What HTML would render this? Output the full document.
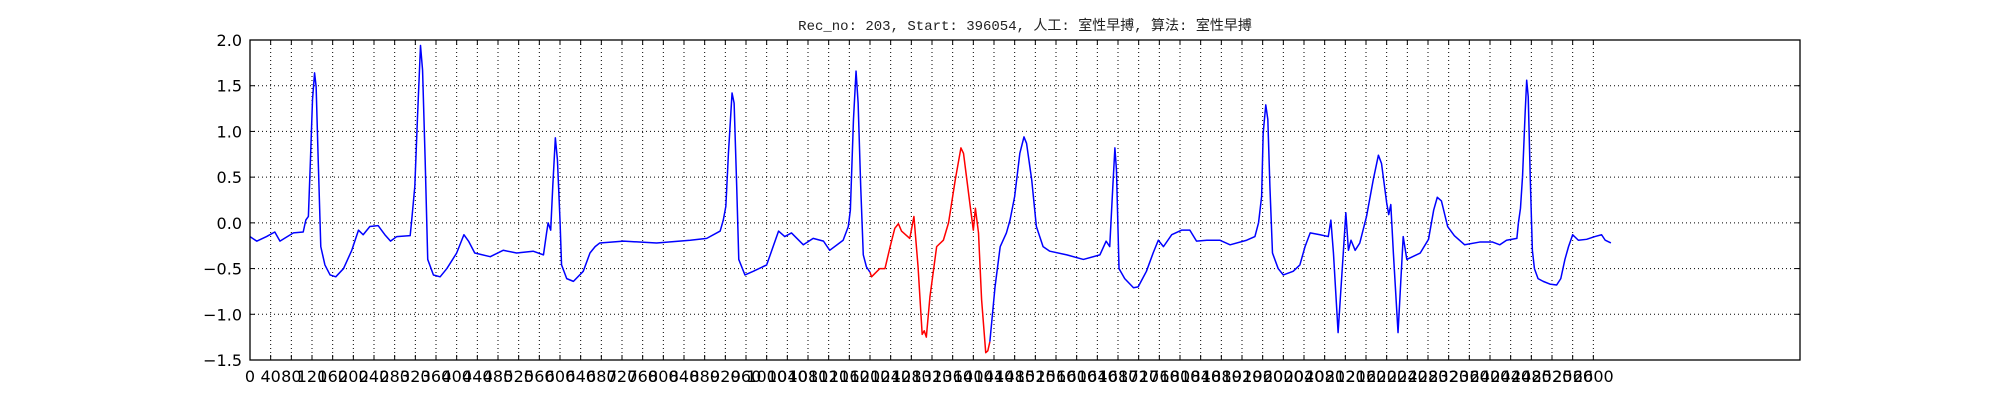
<!DOCTYPE html>
<html><head><meta charset="utf-8"><style>
html,body{margin:0;padding:0;background:#fff;}
svg{display:block;}
</style></head><body>
<svg id="chart" width="2000" height="400" xmlns="http://www.w3.org/2000/svg">
<rect width="2000" height="400" fill="#fff"/>
<text x="1025" y="30" text-anchor="middle" font-family="Liberation Mono, 'Noto Sans CJK SC', monospace" font-size="14" fill="#222">Rec_no: 203, Start: 396054, 人工: 室性早搏, 算法: 室性早搏</text>
<g id="grid"></g><g id="ticks"></g><g id="series"></g>
<rect x="250" y="40" width="1550" height="320" fill="none" stroke="#000" stroke-width="1.3"/>
</svg>
<script>
const xTicks = [];
for (let t = 0; t <= 2600; t += 40) xTicks.push(t);
const yTicks = [-1.5,-1.0,-0.5,0.0,0.5,1.0,1.5,2.0];
const yTickLabels = ["\u22121.5","\u22121.0","\u22120.5","0.0","0.5","1.0","1.5","2.0"];

const blueAIdx = [0,13,32,48,58,84,103,108,113,117,121,125,128,132,137,145,155,166,181,197,210,219,232,248,261,272,284,310,313,319,324,330,334,339,344,355,368,381,400,414,423,435,465,490,516,548,568,574,577,582,586,591,595,600,603,613,626,645,658,668,677,723,787,852,884,910,916,921,926,933,937,942,946,958,974,1000,1010,1023,1035,1048,1071,1090,1110,1122,1148,1158,1162,1168,1173,1177,1182,1187,1193,1200];
const blueAVal = [-0.15,-0.2,-0.15,-0.1,-0.2,-0.11,-0.1,0.03,0.07,0.69,1.35,1.64,1.49,0.69,-0.26,-0.46,-0.57,-0.59,-0.5,-0.3,-0.08,-0.13,-0.04,-0.03,-0.13,-0.2,-0.15,-0.14,0.03,0.4,1.13,1.94,1.67,0.69,-0.4,-0.57,-0.59,-0.5,-0.33,-0.13,-0.2,-0.33,-0.37,-0.3,-0.33,-0.31,-0.35,-0.11,0.0,-0.08,0.4,0.93,0.69,0.03,-0.46,-0.61,-0.64,-0.53,-0.33,-0.26,-0.22,-0.2,-0.22,-0.19,-0.17,-0.09,0.03,0.18,0.76,1.42,1.31,0.4,-0.4,-0.57,-0.53,-0.46,-0.3,-0.09,-0.15,-0.11,-0.24,-0.17,-0.2,-0.3,-0.19,-0.04,0.14,1.13,1.66,1.31,0.4,-0.35,-0.48,-0.54];
const redIdx = [1200,1203,1219,1229,1239,1248,1255,1261,1277,1285,1293,1301,1305,1309,1316,1329,1342,1352,1365,1376,1381,1394,1400,1404,1410,1416,1424,1428,1432];
const redVal = [-0.54,-0.59,-0.5,-0.5,-0.26,-0.06,-0.01,-0.09,-0.17,0.07,-0.48,-1.22,-1.18,-1.25,-0.81,-0.26,-0.19,0.0,0.47,0.82,0.76,0.18,-0.08,0.16,-0.11,-0.84,-1.42,-1.4,-1.3];
const blueBIdx = [1432,1437,1442,1452,1464,1471,1480,1490,1498,1503,1513,1522,1535,1548,1581,1613,1645,1657,1664,1670,1674,1677,1682,1693,1710,1719,1735,1748,1758,1768,1784,1803,1819,1832,1852,1877,1897,1929,1945,1952,1958,1961,1966,1970,1974,1979,1990,2000,2019,2032,2042,2052,2071,2087,2092,2097,2106,2116,2121,2126,2131,2139,2148,2161,2174,2184,2190,2200,2204,2208,2213,2222,2232,2239,2265,2281,2291,2298,2306,2318,2331,2351,2380,2405,2419,2432,2452,2455,2459,2463,2468,2471,2474,2478,2482,2486,2493,2503,2516,2529,2537,2545,2552,2560,2571,2587,2603,2616,2623,2634];
const blueBVal = [-1.3,-1.0,-0.7,-0.26,-0.11,0.03,0.29,0.76,0.94,0.87,0.47,-0.04,-0.26,-0.31,-0.35,-0.4,-0.35,-0.2,-0.26,0.4,0.82,0.58,-0.5,-0.61,-0.71,-0.7,-0.53,-0.33,-0.19,-0.26,-0.13,-0.08,-0.08,-0.2,-0.19,-0.19,-0.24,-0.19,-0.15,0.0,0.29,0.98,1.29,1.13,0.4,-0.33,-0.5,-0.57,-0.53,-0.46,-0.26,-0.11,-0.13,-0.15,0.03,-0.33,-1.2,-0.33,0.11,-0.3,-0.19,-0.3,-0.22,0.07,0.47,0.74,0.65,0.22,0.09,0.2,-0.33,-1.2,-0.15,-0.4,-0.33,-0.18,0.14,0.28,0.24,-0.04,-0.14,-0.24,-0.21,-0.21,-0.24,-0.19,-0.17,0.0,0.16,0.51,1.2,1.56,1.38,0.47,-0.3,-0.5,-0.61,-0.64,-0.67,-0.68,-0.61,-0.4,-0.26,-0.13,-0.19,-0.18,-0.15,-0.13,-0.19,-0.22];

const L=250,R=1800,T=40,B=360,XMAX=3000,YMIN=-1.5,YMAX=2.0;
function xs(i){return L+(i/XMAX)*(R-L);}
function ys(v){return T+(YMAX-v)/(YMAX-YMIN)*(B-T);}
const NS="http://www.w3.org/2000/svg";
function mk(tag,attrs,parent){const e=document.createElementNS(NS,tag);for(const k in attrs)e.setAttribute(k,attrs[k]);parent.appendChild(e);return e;}
const grid=document.getElementById('grid'),ticks=document.getElementById('ticks'),series=document.getElementById('series');

xTicks.forEach(t=>{
  const x=xs(t);
  const g=mk('line',{x1:x,y1:T,x2:x,y2:B,stroke:'#000','stroke-width':1,'stroke-dasharray':'1,3'},grid);
  
  
  const tb=mk('line',{x1:x,y1:B,x2:x,y2:B-5,stroke:'#000','stroke-width':1},ticks);
  
  
  const tt=mk('line',{x1:x,y1:T,x2:x,y2:T+5,stroke:'#000','stroke-width':1},ticks);
  
  
  const lb=mk('text',{x:x,y:B+22,'text-anchor':'middle','font-family':'DejaVu Sans, sans-serif','font-size':16,fill:'#000'},ticks);
  lb.textContent=String(t);
  
  
});
yTicks.forEach((v,k)=>{
  const y=ys(v);
  const g=mk('line',{x1:L,y1:y,x2:R,y2:y,stroke:'#000','stroke-width':1,'stroke-dasharray':'1,3'},grid);
  
  
  const tl=mk('line',{x1:L,y1:y,x2:L+5,y2:y,stroke:'#000','stroke-width':1},ticks);
  
  
  const tr=mk('line',{x1:R,y1:y,x2:R-5,y2:y,stroke:'#000','stroke-width':1},ticks);
  
  
  const lb=mk('text',{x:L-8,y:y+6,'text-anchor':'end','font-family':'DejaVu Sans, sans-serif','font-size':16,fill:'#000'},ticks);
  lb.textContent=yTickLabels[k];
  
  
});
function path(idx,val,color,name){
  const d=idx.map((i,k)=>(k?'L':'M')+xs(i).toFixed(2)+','+ys(val[k]).toFixed(2)).join(' ');
  const p=mk('path',{d:d,fill:'none',stroke:color,'stroke-width':1.5,'stroke-linejoin':'round'},series);
  
  
}
path(blueAIdx,blueAVal,'#0000ff','ecg-normal-segment-1');
path(redIdx,redVal,'#ff0000','ecg-pvc-segment');
path(blueBIdx,blueBVal,'#0000ff','ecg-normal-segment-2');
</script>
</body></html>
